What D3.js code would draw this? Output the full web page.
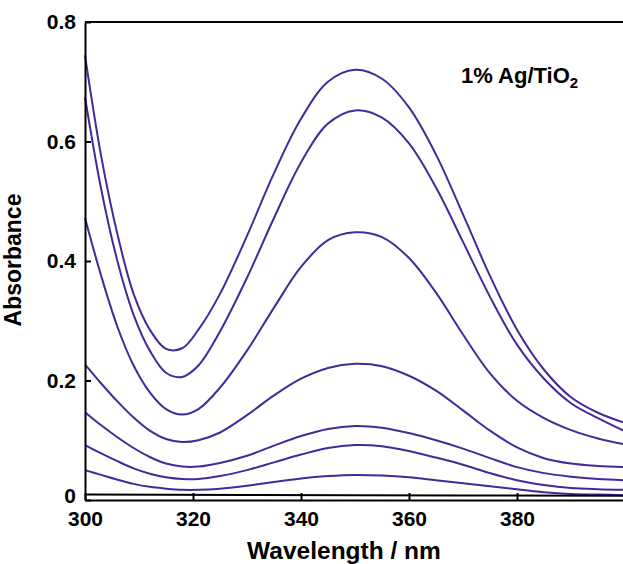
<!DOCTYPE html>
<html>
<head>
<meta charset="utf-8">
<script src="https://cdn.jsdelivr.net/npm/d3@7"></script>
<style>
  body { margin: 0; background: #fff; }
  svg { display: block; font-family: "Liberation Sans", Arial, sans-serif; }
</style>
</head>
<body>
<svg id="chart" width="623" height="564"></svg>
<script>
const wl = [300,303,306,309,312,315,318,321,325,330,335,340,345,350,355,360,365,370,375,380,385,390,395,400];

// absorbance, top curve to bottom curve
const s1 = [0.744,0.575,0.445,0.345,0.285,0.253,0.254,0.285,0.345,0.442,0.547,0.638,0.700,0.720,0.705,0.657,0.578,0.478,0.375,0.285,0.218,0.172,0.146,0.129];
const s2 = [0.674,0.520,0.400,0.310,0.250,0.213,0.206,0.225,0.282,0.372,0.472,0.565,0.630,0.652,0.640,0.597,0.523,0.432,0.340,0.260,0.203,0.162,0.137,0.115];
const s3 = [0.472,0.375,0.290,0.225,0.180,0.152,0.143,0.152,0.188,0.250,0.322,0.390,0.435,0.448,0.440,0.405,0.347,0.277,0.212,0.166,0.137,0.117,0.103,0.093];
const s4 = [0.227,0.195,0.165,0.138,0.116,0.102,0.097,0.100,0.113,0.142,0.175,0.203,0.221,0.228,0.224,0.208,0.183,0.150,0.116,0.088,0.070,0.061,0.057,0.055];
const s5 = [0.147,0.125,0.105,0.087,0.072,0.061,0.056,0.056,0.062,0.074,0.091,0.107,0.119,0.124,0.121,0.112,0.100,0.086,0.070,0.055,0.045,0.039,0.035,0.033];
const s6 = [0.092,0.078,0.065,0.053,0.044,0.038,0.035,0.035,0.040,0.050,0.063,0.076,0.087,0.092,0.090,0.082,0.071,0.059,0.045,0.033,0.025,0.020,0.018,0.017];
const s7 = [0.050,0.042,0.034,0.027,0.022,0.019,0.017,0.017,0.019,0.024,0.030,0.036,0.040,0.042,0.041,0.038,0.033,0.028,0.023,0.018,0.013,0.010,0.009,0.008];
const spectra = [s1, s2, s3, s4, s5, s6, s7];

// blank (reference) trace, nearly flat
const blankWl = [300, 350, 400];
const blankA  = [0.009, 0.008, 0.007];

const xTicks = [300, 320, 340, 360, 380];
const yTicks = [0, 0.2, 0.4, 0.6, 0.8];

const svg = d3.select("#chart");
const m = { left: 85, right: 625, top: 22, bottom: 500 };

const x = d3.scaleLinear().domain([300, 400]).range([m.left, m.right]);
const y = d3.scaleLinear().domain([0, 0.8]).range([m.bottom, m.top]);

const line = d3.line()
    .x(d => x(d[0]))
    .y(d => y(d[1]))
    .curve(d3.curveCatmullRom.alpha(0.5));

const plot = svg.append("g");

plot.selectAll(".spec")
    .data(spectra)
    .join("path")
    .attr("class", "spec")
    .attr("fill", "none")
    .attr("stroke", "#46289a")
    .attr("stroke-width", 2)
    .attr("d", s => line(s.map((v, i) => [wl[i], v])));

plot.append("path")
    .attr("fill", "none")
    .attr("stroke", "#000")
    .attr("stroke-width", 2)
    .attr("d", line(blankA.map((v, i) => [blankWl[i], v])));

// axes
const xAxis = svg.append("g")
    .attr("transform", `translate(0,${m.bottom})`)
    .call(d3.axisBottom(x).tickValues(xTicks).tickFormat(d3.format("d"))
        .tickSize(-7).tickSizeOuter(0).tickPadding(11));

const yAxis = svg.append("g")
    .attr("transform", `translate(${m.left},0)`)
    .call(d3.axisLeft(y).tickValues(yTicks).tickFormat(d => d === 0 ? "0" : d3.format(".1f")(d))
        .tickSize(-6).tickSizeOuter(0).tickPadding(9));

[xAxis, yAxis].forEach(a => {
    a.select(".domain").attr("stroke", "#000").attr("stroke-width", 2);
    a.selectAll(".tick line").attr("stroke", "#000").attr("stroke-width", 2);
    a.selectAll(".tick text")
        .attr("fill", "#000")
        .style("font-size", "21px")
        .style("font-weight", "bold")
        .style("font-family", "'Liberation Sans', Arial, sans-serif");
});
// the zero label sits a little higher than its tick
yAxis.selectAll(".tick text").filter(d => d === 0).attr("y", -4);

// top frame
svg.append("line")
    .attr("x1", m.left).attr("x2", m.right)
    .attr("y1", m.top).attr("y2", m.top)
    .attr("stroke", "#000").attr("stroke-width", 2);

// axis titles
svg.append("text")
    .attr("x", 344).attr("y", 559)
    .attr("text-anchor", "middle")
    .style("font-size", "24.5px").style("font-weight", "bold")
    .text("Wavelength / nm");

svg.append("text")
    .attr("transform", "translate(21,260) rotate(-90)")
    .attr("text-anchor", "middle")
    .style("font-size", "23px").style("font-weight", "bold")
    .text("Absorbance");

// sample label
const lab = svg.append("text")
    .attr("x", 461).attr("y", 83)
    .style("font-size", "22px").style("font-weight", "bold");
lab.append("tspan").text("1% Ag/TiO");
lab.append("tspan").attr("dy", 5).style("font-size", "15px").text("2");
</script>
</body>
</html>
